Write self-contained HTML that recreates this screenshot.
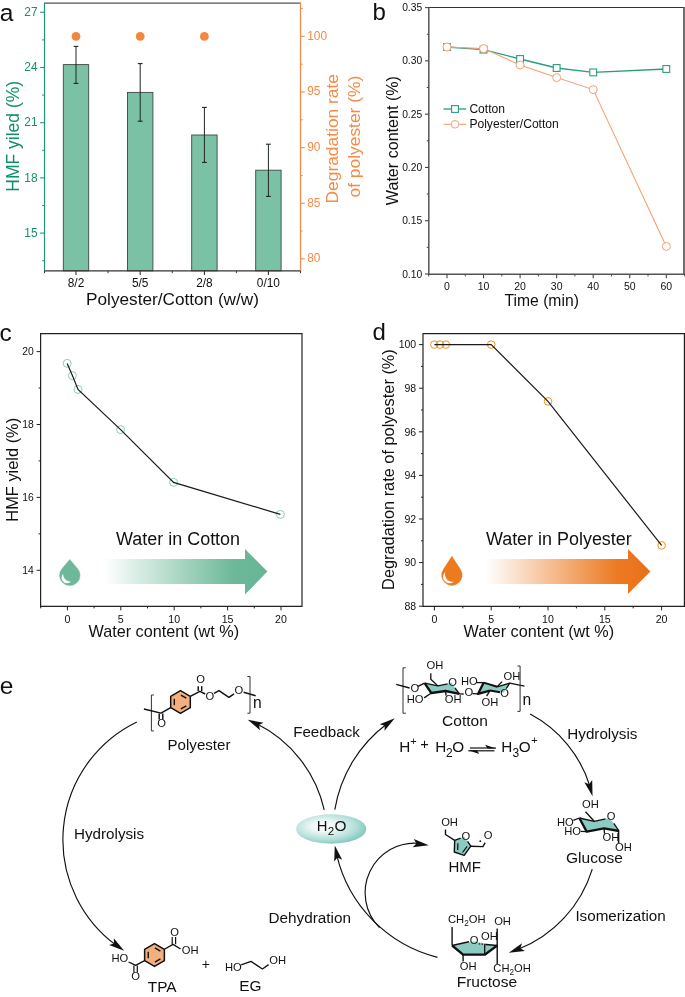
<!DOCTYPE html>
<html><head><meta charset="utf-8"><style>
html,body{margin:0;padding:0;background:#fff;overflow:hidden;}
svg{display:block;will-change:transform;}
text{font-family:"Liberation Sans", sans-serif;}
</style></head><body>
<svg width="685" height="997" viewBox="0 0 685 997">
<rect width="685" height="997" fill="#fff"/>
<text x="-0.20" y="20.70" font-size="24.5" fill="#111" text-anchor="start" >a</text>
<rect x="63.30" y="64.60" width="25.4" height="206.20" fill="#7bc1a5" stroke="#3b4843" stroke-width="0.9"/>
<line x1="76.00" y1="46.40" x2="76.00" y2="83.40" stroke="#1e2522" stroke-width="1.0" />
<line x1="73.60" y1="46.40" x2="78.40" y2="46.40" stroke="#1e2522" stroke-width="1.1" />
<line x1="73.60" y1="83.40" x2="78.40" y2="83.40" stroke="#1e2522" stroke-width="1.1" />
<rect x="127.50" y="92.40" width="25.4" height="178.40" fill="#7bc1a5" stroke="#3b4843" stroke-width="0.9"/>
<line x1="140.20" y1="63.60" x2="140.20" y2="121.20" stroke="#1e2522" stroke-width="1.0" />
<line x1="137.80" y1="63.60" x2="142.60" y2="63.60" stroke="#1e2522" stroke-width="1.1" />
<line x1="137.80" y1="121.20" x2="142.60" y2="121.20" stroke="#1e2522" stroke-width="1.1" />
<rect x="191.70" y="135.00" width="25.4" height="135.80" fill="#7bc1a5" stroke="#3b4843" stroke-width="0.9"/>
<line x1="204.40" y1="107.40" x2="204.40" y2="162.40" stroke="#1e2522" stroke-width="1.0" />
<line x1="202.00" y1="107.40" x2="206.80" y2="107.40" stroke="#1e2522" stroke-width="1.1" />
<line x1="202.00" y1="162.40" x2="206.80" y2="162.40" stroke="#1e2522" stroke-width="1.1" />
<rect x="255.70" y="170.20" width="25.4" height="100.60" fill="#7bc1a5" stroke="#3b4843" stroke-width="0.9"/>
<line x1="268.40" y1="144.20" x2="268.40" y2="196.40" stroke="#1e2522" stroke-width="1.0" />
<line x1="266.00" y1="144.20" x2="270.80" y2="144.20" stroke="#1e2522" stroke-width="1.1" />
<line x1="266.00" y1="196.40" x2="270.80" y2="196.40" stroke="#1e2522" stroke-width="1.1" />
<circle cx="76.00" cy="36.4" r="4.4" fill="#f5863a"/>
<circle cx="140.20" cy="36.4" r="4.4" fill="#f5863a"/>
<circle cx="204.40" cy="36.4" r="4.4" fill="#f5863a"/>
<line x1="44.50" y1="3.20" x2="300.50" y2="3.20" stroke="#555" stroke-width="1.3" />
<line x1="44.30" y1="270.80" x2="300.70" y2="270.80" stroke="#333" stroke-width="1.2" />
<line x1="44.50" y1="2.60" x2="44.50" y2="270.80" stroke="#23977a" stroke-width="1.2" />
<line x1="300.50" y1="2.60" x2="300.50" y2="270.80" stroke="#f4894a" stroke-width="1.2" />
<line x1="40.10" y1="233.10" x2="44.50" y2="233.10" stroke="#23977a" stroke-width="1.1" />
<text x="37.60" y="236.70" font-size="11.9" fill="#15916c" text-anchor="end" >15</text>
<line x1="40.10" y1="177.90" x2="44.50" y2="177.90" stroke="#23977a" stroke-width="1.1" />
<text x="37.60" y="181.50" font-size="11.9" fill="#15916c" text-anchor="end" >18</text>
<line x1="40.10" y1="122.70" x2="44.50" y2="122.70" stroke="#23977a" stroke-width="1.1" />
<text x="37.60" y="126.30" font-size="11.9" fill="#15916c" text-anchor="end" >21</text>
<line x1="40.10" y1="67.50" x2="44.50" y2="67.50" stroke="#23977a" stroke-width="1.1" />
<text x="37.60" y="71.10" font-size="11.9" fill="#15916c" text-anchor="end" >24</text>
<line x1="40.10" y1="12.30" x2="44.50" y2="12.30" stroke="#23977a" stroke-width="1.1" />
<text x="37.60" y="15.90" font-size="11.9" fill="#15916c" text-anchor="end" >27</text>
<line x1="42.10" y1="260.70" x2="44.50" y2="260.70" stroke="#23977a" stroke-width="1.0" />
<line x1="42.10" y1="205.50" x2="44.50" y2="205.50" stroke="#23977a" stroke-width="1.0" />
<line x1="42.10" y1="150.30" x2="44.50" y2="150.30" stroke="#23977a" stroke-width="1.0" />
<line x1="42.10" y1="95.10" x2="44.50" y2="95.10" stroke="#23977a" stroke-width="1.0" />
<line x1="42.10" y1="39.90" x2="44.50" y2="39.90" stroke="#23977a" stroke-width="1.0" />
<line x1="300.50" y1="258.80" x2="304.70" y2="258.80" stroke="#f4894a" stroke-width="1.1" />
<text x="307.20" y="262.20" font-size="11.9" fill="#f58a45" text-anchor="start" >80</text>
<line x1="300.50" y1="203.20" x2="304.70" y2="203.20" stroke="#f4894a" stroke-width="1.1" />
<text x="307.20" y="206.60" font-size="11.9" fill="#f58a45" text-anchor="start" >85</text>
<line x1="300.50" y1="147.60" x2="304.70" y2="147.60" stroke="#f4894a" stroke-width="1.1" />
<text x="307.20" y="151.00" font-size="11.9" fill="#f58a45" text-anchor="start" >90</text>
<line x1="300.50" y1="92.00" x2="304.70" y2="92.00" stroke="#f4894a" stroke-width="1.1" />
<text x="307.20" y="95.40" font-size="11.9" fill="#f58a45" text-anchor="start" >95</text>
<line x1="300.50" y1="36.40" x2="304.70" y2="36.40" stroke="#f4894a" stroke-width="1.1" />
<text x="307.20" y="39.80" font-size="11.9" fill="#f58a45" text-anchor="start" >100</text>
<line x1="300.50" y1="231.00" x2="302.80" y2="231.00" stroke="#f4894a" stroke-width="1.0" />
<line x1="300.50" y1="175.40" x2="302.80" y2="175.40" stroke="#f4894a" stroke-width="1.0" />
<line x1="300.50" y1="119.80" x2="302.80" y2="119.80" stroke="#f4894a" stroke-width="1.0" />
<line x1="300.50" y1="64.20" x2="302.80" y2="64.20" stroke="#f4894a" stroke-width="1.0" />
<line x1="300.50" y1="8.60" x2="302.80" y2="8.60" stroke="#f4894a" stroke-width="1.0" />
<line x1="76.00" y1="270.80" x2="76.00" y2="275.00" stroke="#333" stroke-width="1.1" />
<text x="76.00" y="287.20" font-size="11.9" fill="#111" text-anchor="middle" >8/2</text>
<line x1="140.20" y1="270.80" x2="140.20" y2="275.00" stroke="#333" stroke-width="1.1" />
<text x="140.20" y="287.20" font-size="11.9" fill="#111" text-anchor="middle" >5/5</text>
<line x1="204.40" y1="270.80" x2="204.40" y2="275.00" stroke="#333" stroke-width="1.1" />
<text x="204.40" y="287.20" font-size="11.9" fill="#111" text-anchor="middle" >2/8</text>
<line x1="268.40" y1="270.80" x2="268.40" y2="275.00" stroke="#333" stroke-width="1.1" />
<text x="268.40" y="287.20" font-size="11.9" fill="#111" text-anchor="middle" >0/10</text>
<line x1="44.50" y1="270.80" x2="44.50" y2="273.10" stroke="#333" stroke-width="1.0" />
<line x1="108.10" y1="270.80" x2="108.10" y2="273.10" stroke="#333" stroke-width="1.0" />
<line x1="172.30" y1="270.80" x2="172.30" y2="273.10" stroke="#333" stroke-width="1.0" />
<line x1="236.40" y1="270.80" x2="236.40" y2="273.10" stroke="#333" stroke-width="1.0" />
<line x1="300.50" y1="270.80" x2="300.50" y2="273.10" stroke="#333" stroke-width="1.0" />
<text x="172.50" y="305.20" font-size="17.2" fill="#111" text-anchor="middle" >Polyester/Cotton (w/w)</text>
<text transform="translate(18.50,136.30) rotate(-90)" font-size="17.5" fill="#10906a" text-anchor="middle">HMF yiled (%)</text>
<text transform="translate(338.10,138.75) rotate(-90)" font-size="17.4" fill="#f58a45" text-anchor="middle">Degradation rate</text>
<text transform="translate(360.30,136.60) rotate(-90)" font-size="17.4" fill="#f58a45" text-anchor="middle">of polyester (%)</text>
<text x="372.60" y="20.40" font-size="24" fill="#111" text-anchor="start" >b</text>
<line x1="428.80" y1="7.50" x2="684.00" y2="7.50" stroke="#333" stroke-width="1.2" />
<line x1="428.80" y1="274.20" x2="684.00" y2="274.20" stroke="#555" stroke-width="1.5" />
<line x1="428.80" y1="6.90" x2="428.80" y2="274.90" stroke="#555" stroke-width="1.5" />
<line x1="684.00" y1="6.90" x2="684.00" y2="274.90" stroke="#555" stroke-width="1.7" />
<line x1="425.00" y1="274.00" x2="428.80" y2="274.00" stroke="#444" stroke-width="1.1" />
<text x="422.20" y="277.55" font-size="10.3" fill="#111" text-anchor="end" >0.10</text>
<line x1="425.00" y1="220.72" x2="428.80" y2="220.72" stroke="#444" stroke-width="1.1" />
<text x="422.20" y="224.27" font-size="10.3" fill="#111" text-anchor="end" >0.15</text>
<line x1="425.00" y1="167.44" x2="428.80" y2="167.44" stroke="#444" stroke-width="1.1" />
<text x="422.20" y="170.99" font-size="10.3" fill="#111" text-anchor="end" >0.20</text>
<line x1="425.00" y1="114.16" x2="428.80" y2="114.16" stroke="#444" stroke-width="1.1" />
<text x="422.20" y="117.71" font-size="10.3" fill="#111" text-anchor="end" >0.25</text>
<line x1="425.00" y1="60.88" x2="428.80" y2="60.88" stroke="#444" stroke-width="1.1" />
<text x="422.20" y="64.43" font-size="10.3" fill="#111" text-anchor="end" >0.30</text>
<line x1="425.00" y1="7.60" x2="428.80" y2="7.60" stroke="#444" stroke-width="1.1" />
<text x="422.20" y="11.15" font-size="10.3" fill="#111" text-anchor="end" >0.35</text>
<line x1="426.80" y1="247.36" x2="428.80" y2="247.36" stroke="#444" stroke-width="1.0" />
<line x1="426.80" y1="194.08" x2="428.80" y2="194.08" stroke="#444" stroke-width="1.0" />
<line x1="426.80" y1="140.80" x2="428.80" y2="140.80" stroke="#444" stroke-width="1.0" />
<line x1="426.80" y1="87.52" x2="428.80" y2="87.52" stroke="#444" stroke-width="1.0" />
<line x1="426.80" y1="34.24" x2="428.80" y2="34.24" stroke="#444" stroke-width="1.0" />
<line x1="447.00" y1="274.20" x2="447.00" y2="278.20" stroke="#444" stroke-width="1.1" />
<text x="447.00" y="289.90" font-size="10.5" fill="#111" text-anchor="middle" >0</text>
<line x1="483.55" y1="274.20" x2="483.55" y2="278.20" stroke="#444" stroke-width="1.1" />
<text x="483.55" y="289.90" font-size="10.5" fill="#111" text-anchor="middle" >10</text>
<line x1="520.10" y1="274.20" x2="520.10" y2="278.20" stroke="#444" stroke-width="1.1" />
<text x="520.10" y="289.90" font-size="10.5" fill="#111" text-anchor="middle" >20</text>
<line x1="556.65" y1="274.20" x2="556.65" y2="278.20" stroke="#444" stroke-width="1.1" />
<text x="556.65" y="289.90" font-size="10.5" fill="#111" text-anchor="middle" >30</text>
<line x1="593.20" y1="274.20" x2="593.20" y2="278.20" stroke="#444" stroke-width="1.1" />
<text x="593.20" y="289.90" font-size="10.5" fill="#111" text-anchor="middle" >40</text>
<line x1="629.75" y1="274.20" x2="629.75" y2="278.20" stroke="#444" stroke-width="1.1" />
<text x="629.75" y="289.90" font-size="10.5" fill="#111" text-anchor="middle" >50</text>
<line x1="666.30" y1="274.20" x2="666.30" y2="278.20" stroke="#444" stroke-width="1.1" />
<text x="666.30" y="289.90" font-size="10.5" fill="#111" text-anchor="middle" >60</text>
<line x1="428.73" y1="274.20" x2="428.73" y2="276.40" stroke="#444" stroke-width="1.0" />
<line x1="465.27" y1="274.20" x2="465.27" y2="276.40" stroke="#444" stroke-width="1.0" />
<line x1="501.82" y1="274.20" x2="501.82" y2="276.40" stroke="#444" stroke-width="1.0" />
<line x1="538.38" y1="274.20" x2="538.38" y2="276.40" stroke="#444" stroke-width="1.0" />
<line x1="574.92" y1="274.20" x2="574.92" y2="276.40" stroke="#444" stroke-width="1.0" />
<line x1="611.48" y1="274.20" x2="611.48" y2="276.40" stroke="#444" stroke-width="1.0" />
<line x1="648.02" y1="274.20" x2="648.02" y2="276.40" stroke="#444" stroke-width="1.0" />
<line x1="684.58" y1="274.20" x2="684.58" y2="276.40" stroke="#444" stroke-width="1.0" />
<text x="541.70" y="305.60" font-size="15.7" fill="#111" text-anchor="middle" >Time (min)</text>
<text transform="translate(398.20,140.60) rotate(-90)" font-size="16.1" fill="#111" text-anchor="middle">Water content (%)</text>
<polyline points="447.00,47.00 483.55,49.60 520.10,59.00 556.65,68.00 593.20,72.40 666.30,69.00" fill="none" stroke="#2a9d7c" stroke-width="1.3"/>
<polyline points="447.00,47.00 483.55,48.60 520.10,65.00 556.65,77.60 593.20,89.60 666.30,246.40" fill="none" stroke="#f4a172" stroke-width="1.1"/>
<rect x="443.60" y="43.60" width="6.8" height="6.8" fill="#fff" stroke="#2a9d7c" stroke-width="1.1"/>
<rect x="480.15" y="46.20" width="6.8" height="6.8" fill="#fff" stroke="#2a9d7c" stroke-width="1.1"/>
<rect x="516.70" y="55.60" width="6.8" height="6.8" fill="#fff" stroke="#2a9d7c" stroke-width="1.1"/>
<rect x="553.25" y="64.60" width="6.8" height="6.8" fill="#fff" stroke="#2a9d7c" stroke-width="1.1"/>
<rect x="589.80" y="69.00" width="6.8" height="6.8" fill="#fff" stroke="#2a9d7c" stroke-width="1.1"/>
<rect x="662.90" y="65.60" width="6.8" height="6.8" fill="#fff" stroke="#2a9d7c" stroke-width="1.1"/>
<circle cx="447.00" cy="47.00" r="4.0" fill="#fff" stroke="#f4a172" stroke-width="1.0"/>
<circle cx="483.55" cy="48.60" r="4.0" fill="#fff" stroke="#f4a172" stroke-width="1.0"/>
<circle cx="520.10" cy="65.00" r="4.0" fill="#fff" stroke="#f4a172" stroke-width="1.0"/>
<circle cx="556.65" cy="77.60" r="4.0" fill="#fff" stroke="#f4a172" stroke-width="1.0"/>
<circle cx="593.20" cy="89.60" r="4.0" fill="#fff" stroke="#f4a172" stroke-width="1.0"/>
<circle cx="666.30" cy="246.40" r="4.0" fill="#fff" stroke="#f4a172" stroke-width="1.0"/>
<line x1="443.50" y1="109.00" x2="466.20" y2="109.00" stroke="#2a9d7c" stroke-width="1.3" />
<rect x="451.60" y="105.60" width="6.8" height="6.8" fill="#fff" stroke="#2a9d7c" stroke-width="1.1"/>
<text x="469.40" y="112.60" font-size="12.1" fill="#111" text-anchor="start" >Cotton</text>
<line x1="443.50" y1="124.30" x2="466.20" y2="124.30" stroke="#f4a172" stroke-width="1.1" />
<circle cx="455.0" cy="124.3" r="3.8" fill="#fff" stroke="#f4a172" stroke-width="1.0"/>
<text x="469.40" y="128.00" font-size="12.1" fill="#111" text-anchor="start" >Polyester/Cotton</text>
<text x="-0.50" y="341.00" font-size="24.5" fill="#111" text-anchor="start" >c</text>
<line x1="40.60" y1="333.60" x2="302.00" y2="333.60" stroke="#222" stroke-width="1.2" />
<line x1="40.60" y1="606.40" x2="302.00" y2="606.40" stroke="#222" stroke-width="1.2" />
<line x1="40.60" y1="333.00" x2="40.60" y2="607.00" stroke="#222" stroke-width="1.2" />
<line x1="302.00" y1="333.00" x2="302.00" y2="607.00" stroke="#222" stroke-width="1.2" />
<line x1="36.60" y1="570.30" x2="40.60" y2="570.30" stroke="#222" stroke-width="1.0" />
<text x="33.80" y="574.00" font-size="10.3" fill="#111" text-anchor="end" >14</text>
<line x1="36.60" y1="497.40" x2="40.60" y2="497.40" stroke="#222" stroke-width="1.0" />
<text x="33.80" y="501.10" font-size="10.3" fill="#111" text-anchor="end" >16</text>
<line x1="36.60" y1="424.50" x2="40.60" y2="424.50" stroke="#222" stroke-width="1.0" />
<text x="33.80" y="428.20" font-size="10.3" fill="#111" text-anchor="end" >18</text>
<line x1="36.60" y1="351.60" x2="40.60" y2="351.60" stroke="#222" stroke-width="1.0" />
<text x="33.80" y="355.30" font-size="10.3" fill="#111" text-anchor="end" >20</text>
<line x1="38.60" y1="533.85" x2="40.60" y2="533.85" stroke="#222" stroke-width="1.0" />
<line x1="38.60" y1="460.95" x2="40.60" y2="460.95" stroke="#222" stroke-width="1.0" />
<line x1="38.60" y1="388.05" x2="40.60" y2="388.05" stroke="#222" stroke-width="1.0" />
<line x1="67.40" y1="606.40" x2="67.40" y2="610.40" stroke="#222" stroke-width="1.0" />
<text x="67.40" y="623.20" font-size="10.6" fill="#111" text-anchor="middle" >0</text>
<line x1="120.80" y1="606.40" x2="120.80" y2="610.40" stroke="#222" stroke-width="1.0" />
<text x="120.80" y="623.20" font-size="10.6" fill="#111" text-anchor="middle" >5</text>
<line x1="174.20" y1="606.40" x2="174.20" y2="610.40" stroke="#222" stroke-width="1.0" />
<text x="174.20" y="623.20" font-size="10.6" fill="#111" text-anchor="middle" >10</text>
<line x1="227.60" y1="606.40" x2="227.60" y2="610.40" stroke="#222" stroke-width="1.0" />
<text x="227.60" y="623.20" font-size="10.6" fill="#111" text-anchor="middle" >15</text>
<line x1="281.00" y1="606.40" x2="281.00" y2="610.40" stroke="#222" stroke-width="1.0" />
<text x="281.00" y="623.20" font-size="10.6" fill="#111" text-anchor="middle" >20</text>
<line x1="40.70" y1="606.40" x2="40.70" y2="608.40" stroke="#222" stroke-width="1.0" />
<line x1="94.10" y1="606.40" x2="94.10" y2="608.40" stroke="#222" stroke-width="1.0" />
<line x1="147.50" y1="606.40" x2="147.50" y2="608.40" stroke="#222" stroke-width="1.0" />
<line x1="200.90" y1="606.40" x2="200.90" y2="608.40" stroke="#222" stroke-width="1.0" />
<line x1="254.30" y1="606.40" x2="254.30" y2="608.40" stroke="#222" stroke-width="1.0" />
<text x="163.80" y="636.70" font-size="16.2" fill="#111" text-anchor="middle" >Water content (wt %)</text>
<text transform="translate(17.70,469.75) rotate(-90)" font-size="16.4" fill="#111" text-anchor="middle">HMF yield (%)</text>
<circle cx="67.2" cy="363.4" r="4.0" fill="none" stroke="#86ceb6" stroke-width="1.0"/>
<circle cx="72.4" cy="375.6" r="4.0" fill="none" stroke="#86ceb6" stroke-width="1.0"/>
<circle cx="78" cy="389.4" r="4.0" fill="none" stroke="#86ceb6" stroke-width="1.0"/>
<circle cx="120.6" cy="429.6" r="4.0" fill="none" stroke="#86ceb6" stroke-width="1.0"/>
<circle cx="173.6" cy="482.4" r="4.0" fill="none" stroke="#86ceb6" stroke-width="1.0"/>
<circle cx="280.4" cy="514.4" r="4.0" fill="none" stroke="#86ceb6" stroke-width="1.0"/>
<polyline points="67.2,363.4 72.4,375.6 78,389.4 120.6,429.6 173.6,482.4 280.4,514.4" fill="none" stroke="#1a1a1a" stroke-width="1.2"/>
<text x="116.10" y="544.60" font-size="17.95" fill="#111" text-anchor="start" >Water in Cotton</text>
<text x="372.40" y="340.20" font-size="24" fill="#111" text-anchor="start" >d</text>
<line x1="423.00" y1="333.60" x2="684.40" y2="333.60" stroke="#222" stroke-width="1.2" />
<line x1="423.00" y1="606.40" x2="684.40" y2="606.40" stroke="#222" stroke-width="1.2" />
<line x1="423.00" y1="333.00" x2="423.00" y2="607.00" stroke="#222" stroke-width="1.2" />
<line x1="684.40" y1="333.00" x2="684.40" y2="607.00" stroke="#222" stroke-width="1.2" />
<line x1="419.00" y1="606.20" x2="423.00" y2="606.20" stroke="#222" stroke-width="1.0" />
<text x="416.20" y="609.90" font-size="10.5" fill="#111" text-anchor="end" >88</text>
<line x1="419.00" y1="562.60" x2="423.00" y2="562.60" stroke="#222" stroke-width="1.0" />
<text x="416.20" y="566.30" font-size="10.5" fill="#111" text-anchor="end" >90</text>
<line x1="419.00" y1="519.00" x2="423.00" y2="519.00" stroke="#222" stroke-width="1.0" />
<text x="416.20" y="522.70" font-size="10.5" fill="#111" text-anchor="end" >92</text>
<line x1="419.00" y1="475.40" x2="423.00" y2="475.40" stroke="#222" stroke-width="1.0" />
<text x="416.20" y="479.10" font-size="10.5" fill="#111" text-anchor="end" >94</text>
<line x1="419.00" y1="431.80" x2="423.00" y2="431.80" stroke="#222" stroke-width="1.0" />
<text x="416.20" y="435.50" font-size="10.5" fill="#111" text-anchor="end" >96</text>
<line x1="419.00" y1="388.20" x2="423.00" y2="388.20" stroke="#222" stroke-width="1.0" />
<text x="416.20" y="391.90" font-size="10.5" fill="#111" text-anchor="end" >98</text>
<line x1="419.00" y1="344.60" x2="423.00" y2="344.60" stroke="#222" stroke-width="1.0" />
<text x="416.20" y="348.30" font-size="10.5" fill="#111" text-anchor="end" >100</text>
<line x1="421.00" y1="584.40" x2="423.00" y2="584.40" stroke="#222" stroke-width="1.0" />
<line x1="421.00" y1="540.80" x2="423.00" y2="540.80" stroke="#222" stroke-width="1.0" />
<line x1="421.00" y1="497.20" x2="423.00" y2="497.20" stroke="#222" stroke-width="1.0" />
<line x1="421.00" y1="453.60" x2="423.00" y2="453.60" stroke="#222" stroke-width="1.0" />
<line x1="421.00" y1="410.00" x2="423.00" y2="410.00" stroke="#222" stroke-width="1.0" />
<line x1="421.00" y1="366.40" x2="423.00" y2="366.40" stroke="#222" stroke-width="1.0" />
<line x1="434.40" y1="606.40" x2="434.40" y2="610.40" stroke="#222" stroke-width="1.0" />
<text x="434.40" y="623.10" font-size="10.6" fill="#111" text-anchor="middle" >0</text>
<line x1="491.20" y1="606.40" x2="491.20" y2="610.40" stroke="#222" stroke-width="1.0" />
<text x="491.20" y="623.10" font-size="10.6" fill="#111" text-anchor="middle" >5</text>
<line x1="548.00" y1="606.40" x2="548.00" y2="610.40" stroke="#222" stroke-width="1.0" />
<text x="548.00" y="623.10" font-size="10.6" fill="#111" text-anchor="middle" >10</text>
<line x1="604.80" y1="606.40" x2="604.80" y2="610.40" stroke="#222" stroke-width="1.0" />
<text x="604.80" y="623.10" font-size="10.6" fill="#111" text-anchor="middle" >15</text>
<line x1="661.60" y1="606.40" x2="661.60" y2="610.40" stroke="#222" stroke-width="1.0" />
<text x="661.60" y="623.10" font-size="10.6" fill="#111" text-anchor="middle" >20</text>
<line x1="462.80" y1="606.40" x2="462.80" y2="608.40" stroke="#222" stroke-width="1.0" />
<line x1="519.60" y1="606.40" x2="519.60" y2="608.40" stroke="#222" stroke-width="1.0" />
<line x1="576.40" y1="606.40" x2="576.40" y2="608.40" stroke="#222" stroke-width="1.0" />
<line x1="633.20" y1="606.40" x2="633.20" y2="608.40" stroke="#222" stroke-width="1.0" />
<text x="538.80" y="636.60" font-size="16.2" fill="#111" text-anchor="middle" >Water content (wt %)</text>
<text transform="translate(393.70,469.55) rotate(-90)" font-size="16.35" fill="#111" text-anchor="middle">Degradation rate of polyester (%)</text>
<circle cx="434.4" cy="344.6" r="3.8" fill="none" stroke="#f7901e" stroke-width="1.0"/>
<circle cx="440.0" cy="344.6" r="3.8" fill="none" stroke="#f7901e" stroke-width="1.0"/>
<circle cx="445.8" cy="344.6" r="3.8" fill="none" stroke="#f7901e" stroke-width="1.0"/>
<circle cx="491.2" cy="344.6" r="3.8" fill="none" stroke="#f7901e" stroke-width="1.0"/>
<circle cx="548" cy="401.4" r="3.8" fill="none" stroke="#f7901e" stroke-width="1.0"/>
<circle cx="661.6" cy="545.4" r="3.8" fill="none" stroke="#f7901e" stroke-width="1.0"/>
<polyline points="434.4,344.6 440.0,344.6 445.8,344.6 491.2,344.6 548,401.4 661.6,545.4" fill="none" stroke="#1a1a1a" stroke-width="1.2"/>
<text x="485.90" y="544.60" font-size="17.95" fill="#111" text-anchor="start" >Water in Polyester</text>
<defs>
<linearGradient id="gg" x1="104" y1="0" x2="267" y2="0" gradientUnits="userSpaceOnUse">
<stop offset="0" stop-color="#6cb898" stop-opacity="0"/><stop offset="0.8" stop-color="#6cb898" stop-opacity="1"/><stop offset="1" stop-color="#68b596" stop-opacity="1"/></linearGradient>
<linearGradient id="og" x1="486" y1="0" x2="650" y2="0" gradientUnits="userSpaceOnUse">
<stop offset="0" stop-color="#ec7a22" stop-opacity="0"/><stop offset="0.8" stop-color="#ec7a22" stop-opacity="1"/><stop offset="1" stop-color="#e8711a" stop-opacity="1"/></linearGradient>
<radialGradient id="h2o" cx="0.42" cy="0.42" r="0.6" fx="0.38" fy="0.4">
<stop offset="0" stop-color="#ffffff"/><stop offset="0.3" stop-color="#eef8f6"/><stop offset="0.75" stop-color="#b2ded8"/><stop offset="1" stop-color="#82c9bf"/></radialGradient>
</defs>
<path d="M104,559 L245,559 L245,549 L267.4,571.5 L245,594.4 L245,584 L104,584 Z" fill="url(#gg)"/>
<path d="M486.4,559 L628,559 L628,549 L650.4,571.5 L628,594 L628,584 L486.4,584 Z" fill="url(#og)"/>
<path d="M69.80,559.40 L77.65,568.63 A10.3,10.3 0 1 1 61.95,568.63 Z" fill="#6cb898" stroke="#6cb898" stroke-width="0.4" stroke-linejoin="round"/>
<path d="M63.10,573.70 A7.6,7.6 0 0 0 71.30,581.60 A5.1,5.1 0 0 1 63.10,573.70 Z" fill="#fff"/>
<path d="M451.90,556.20 L460.54,569.49 A10.3,10.3 0 1 1 443.26,569.49 Z" fill="#ec7a1e" stroke="#ec7a1e" stroke-width="0.4" stroke-linejoin="round"/>
<path d="M445.30,572.10 A7.6,7.6 0 0 0 453.60,581.80 A5.1,5.1 0 0 1 445.30,572.10 Z" fill="#fff"/>
<text x="-0.20" y="693.50" font-size="24.5" fill="#111" text-anchor="start" >e</text>
<path d="M153.90,695.00 L151.40,695.00 L151.40,730.90 L153.90,730.90" fill="none" stroke="#333" stroke-width="1.0" stroke-linejoin="round" stroke-linecap="butt" />
<path d="M143.90,709.00 L161.00,713.10 L170.70,707.60" fill="none" stroke="#111" stroke-width="1.45" stroke-linejoin="round" stroke-linecap="butt" />
<path d="M159.20,713.40 L159.20,719.60" fill="none" stroke="#111" stroke-width="1.45" stroke-linejoin="round" stroke-linecap="butt" />
<path d="M162.80,713.40 L162.80,719.60" fill="none" stroke="#111" stroke-width="1.45" stroke-linejoin="round" stroke-linecap="butt" />
<text x="157.27" y="727.40" font-size="11.2" fill="#111">O</text>
<polygon points="180.50,690.70 190.29,696.35 190.29,707.65 180.50,713.30 170.71,707.65 170.71,696.35" fill="#f2b07e" stroke="#111" stroke-width="1.5" stroke-linejoin="round"/>
<path d="M174.31,705.16 L174.31,698.84" fill="none" stroke="#111" stroke-width="1.4" stroke-linejoin="round" stroke-linecap="butt" />
<path d="M180.85,695.06 L186.33,698.22" fill="none" stroke="#111" stroke-width="1.4" stroke-linejoin="round" stroke-linecap="butt" />
<path d="M186.33,705.78 L180.85,708.94" fill="none" stroke="#111" stroke-width="1.4" stroke-linejoin="round" stroke-linecap="butt" />
<path d="M190.29,696.35 L199.90,691.30 L205.20,694.00" fill="none" stroke="#111" stroke-width="1.45" stroke-linejoin="round" stroke-linecap="butt" />
<path d="M198.20,691.00 L198.20,686.20" fill="none" stroke="#111" stroke-width="1.45" stroke-linejoin="round" stroke-linecap="butt" />
<path d="M201.70,691.00 L201.70,686.20" fill="none" stroke="#111" stroke-width="1.45" stroke-linejoin="round" stroke-linecap="butt" />
<text x="196.27" y="682.50" font-size="11.2" fill="#111">O</text>
<text x="205.57" y="699.50" font-size="11.2" fill="#111">O</text>
<path d="M214.00,693.40 L219.00,690.60 L228.90,697.30 L234.00,693.80" fill="none" stroke="#111" stroke-width="1.45" stroke-linejoin="round" stroke-linecap="butt" />
<text x="234.57" y="693.70" font-size="11.2" fill="#111">O</text>
<path d="M243.60,692.30 L255.70,695.70" fill="none" stroke="#111" stroke-width="1.45" stroke-linejoin="round" stroke-linecap="butt" />
<path d="M247.40,676.50 L250.00,676.50 L250.00,713.20 L247.40,713.20" fill="none" stroke="#333" stroke-width="1.0" stroke-linejoin="round" stroke-linecap="butt" />
<text x="252.97" y="707.80" font-size="15.6" fill="#111">n</text>
<text x="167.56" y="750.20" font-size="15.1" fill="#111">Polyester</text>
<path d="M405.80,667.80 L403.00,667.80 L403.00,713.20 L405.80,713.20" fill="none" stroke="#333" stroke-width="1.0" stroke-linejoin="round" stroke-linecap="butt" />
<path d="M396.20,684.40 L409.60,688.00" fill="none" stroke="#111" stroke-width="1.45" stroke-linejoin="round" stroke-linecap="butt" />
<text x="410.57" y="691.60" font-size="11.2" fill="#111">O</text>
<path d="M418.00,686.30 L424.60,683.10" fill="none" stroke="#111" stroke-width="1.45" stroke-linejoin="round" stroke-linecap="butt" />
<polygon points="424.60,683.10 437.90,685.90 445.60,684.60 451.50,682.50 455.30,688.20 459.40,693.80 445.60,691.00 431.30,693.00" fill="#8ccbc2"/>
<path d="M424.60,683.10 L437.90,685.90 L447.60,683.90" fill="none" stroke="#111" stroke-width="1.3" stroke-linejoin="round" stroke-linecap="butt" />
<path d="M455.00,688.00 L459.40,693.80" fill="none" stroke="#111" stroke-width="1.3" stroke-linejoin="round" stroke-linecap="butt" />
<path d="M424.60,683.10 L431.30,693.00 L445.60,691.00 L459.40,693.80" fill="none" stroke="#111" stroke-width="2.3" stroke-linejoin="round" stroke-linecap="butt" />
<path d="M437.90,685.90 L430.80,679.20 L430.80,673.20" fill="none" stroke="#111" stroke-width="1.3" stroke-linejoin="round" stroke-linecap="butt" />
<text x="426.47" y="669.10" font-size="11.2" fill="#111">OH</text>
<text x="448.37" y="685.70" font-size="11.2" fill="#111">O</text>
<path d="M431.30,693.00 L424.10,697.90" fill="none" stroke="#111" stroke-width="1.3" stroke-linejoin="round" stroke-linecap="butt" />
<text x="406.68" y="703.00" font-size="11.2" fill="#111">HO</text>
<path d="M445.60,691.00 L446.10,695.60" fill="none" stroke="#111" stroke-width="1.3" stroke-linejoin="round" stroke-linecap="butt" />
<text x="444.87" y="703.00" font-size="11.2" fill="#111">OH</text>
<path d="M459.40,693.80 L463.80,694.20" fill="none" stroke="#111" stroke-width="1.3" stroke-linejoin="round" stroke-linecap="butt" />
<text x="464.57" y="695.50" font-size="11.2" fill="#111">O</text>
<path d="M472.40,693.60 L478.00,693.90" fill="none" stroke="#111" stroke-width="1.3" stroke-linejoin="round" stroke-linecap="butt" />
<polygon points="478.00,693.90 483.70,682.60 497.20,686.80 509.70,683.20 503.70,692.80 490.00,690.60" fill="#8ccbc2"/>
<path d="M497.20,686.80 L509.70,683.20 L506.20,688.60" fill="none" stroke="#111" stroke-width="1.3" stroke-linejoin="round" stroke-linecap="butt" />
<path d="M483.70,682.60 L497.20,686.80" fill="none" stroke="#111" stroke-width="2.0" stroke-linejoin="round" stroke-linecap="butt" />
<path d="M490.00,690.60 L478.00,693.90 L483.70,682.60" fill="none" stroke="#111" stroke-width="2.3" stroke-linejoin="round" stroke-linecap="butt" />
<path d="M490.00,690.60 L500.00,692.20" fill="none" stroke="#111" stroke-width="2.0" stroke-linejoin="round" stroke-linecap="butt" />
<text x="500.37" y="696.50" font-size="11.2" fill="#111">O</text>
<path d="M476.60,682.60 L483.70,682.60" fill="none" stroke="#111" stroke-width="1.3" stroke-linejoin="round" stroke-linecap="butt" />
<text x="460.88" y="684.60" font-size="11.2" fill="#111">HO</text>
<path d="M497.20,686.80 L502.10,681.60" fill="none" stroke="#111" stroke-width="1.3" stroke-linejoin="round" stroke-linecap="butt" />
<text x="503.47" y="679.60" font-size="11.2" fill="#111">OH</text>
<path d="M490.00,690.60 L486.60,696.20" fill="none" stroke="#111" stroke-width="1.3" stroke-linejoin="round" stroke-linecap="butt" />
<text x="481.57" y="705.90" font-size="11.2" fill="#111">OH</text>
<path d="M509.70,683.20 L524.50,686.20" fill="none" stroke="#111" stroke-width="1.3" stroke-linejoin="round" stroke-linecap="butt" />
<path d="M517.40,666.00 L520.10,666.00 L520.10,711.40 L517.40,711.40" fill="none" stroke="#333" stroke-width="1.0" stroke-linejoin="round" stroke-linecap="butt" />
<text x="522.57" y="704.60" font-size="15.6" fill="#111">n</text>
<text x="442.11" y="726.00" font-size="15.5" fill="#111">Cotton</text>
<text x="399.25" y="752.30" font-size="15.3" fill="#111">H</text>
<text x="410.36" y="745.20" font-size="11.0" fill="#111">+</text>
<text x="420.18" y="749.20" font-size="14.6" fill="#111">+</text>
<text x="435.25" y="752.30" font-size="15.3" fill="#111">H</text>
<text x="445.90" y="756.70" font-size="12.0" fill="#111">2</text>
<text x="452.28" y="752.30" font-size="15.3" fill="#111">O</text>
<path d="M469.90,748.00 L495.90,748.00" fill="none" stroke="#111" stroke-width="1.2" stroke-linejoin="round" stroke-linecap="butt" />
<path d="M495.9,748.6 L485.2,744.8 L487.5,748.6 Z" fill="#111"/>
<path d="M468.40,750.80 L494.50,750.80" fill="none" stroke="#111" stroke-width="1.2" stroke-linejoin="round" stroke-linecap="butt" />
<path d="M468.4,750.2 L479.2,754.0 L476.9,750.2 Z" fill="#111"/>
<text x="501.35" y="752.40" font-size="15.3" fill="#111">H</text>
<text x="512.40" y="756.50" font-size="12.0" fill="#111">3</text>
<text x="518.68" y="752.40" font-size="15.3" fill="#111">O</text>
<text x="531.16" y="744.00" font-size="11.0" fill="#111">+</text>
<polygon points="579.30,818.00 594.20,821.30 604.10,819.20 609.50,818.00 614.00,823.80 619.00,831.00 604.10,828.30 586.70,831.60" fill="#8ccbc2"/>
<path d="M579.30,818.00 L594.20,821.30 L605.50,818.80" fill="none" stroke="#111" stroke-width="1.3" stroke-linejoin="round" stroke-linecap="butt" />
<path d="M613.80,823.40 L619.00,831.00" fill="none" stroke="#111" stroke-width="1.3" stroke-linejoin="round" stroke-linecap="butt" />
<path d="M579.30,818.00 L586.70,831.60 L604.10,828.30 L619.00,831.00" fill="none" stroke="#111" stroke-width="2.3" stroke-linejoin="round" stroke-linecap="butt" />
<path d="M594.20,821.30 L585.50,811.80" fill="none" stroke="#111" stroke-width="1.3" stroke-linejoin="round" stroke-linecap="butt" />
<text x="582.07" y="807.70" font-size="11.2" fill="#111">OH</text>
<text x="606.87" y="820.40" font-size="11.2" fill="#111">O</text>
<path d="M573.40,820.40 L579.30,818.00" fill="none" stroke="#111" stroke-width="1.3" stroke-linejoin="round" stroke-linecap="butt" />
<text x="556.88" y="825.80" font-size="11.2" fill="#111">HO</text>
<path d="M580.60,831.40 L586.70,831.60" fill="none" stroke="#111" stroke-width="1.3" stroke-linejoin="round" stroke-linecap="butt" />
<text x="564.28" y="834.50" font-size="11.2" fill="#111">HO</text>
<path d="M604.10,828.30 L604.50,833.60" fill="none" stroke="#111" stroke-width="1.3" stroke-linejoin="round" stroke-linecap="butt" />
<text x="602.57" y="841.20" font-size="11.2" fill="#111">OH</text>
<path d="M618.60,831.00 L618.60,843.00" fill="none" stroke="#111" stroke-width="1.5" stroke-linejoin="round" stroke-linecap="butt" />
<text x="614.97" y="851.10" font-size="11.2" fill="#111">OH</text>
<text x="566.02" y="862.90" font-size="15.5" fill="#111">Glucose</text>
<polygon points="452.10,945.50 473.60,941.50 497.20,945.50 484.70,954.70 463.10,954.70" fill="#8ccbc2"/>
<path d="M452.10,945.50 L469.00,941.80" fill="none" stroke="#111" stroke-width="1.4" stroke-linejoin="round" stroke-linecap="butt" />
<path d="M478.80,943.90 L485.50,944.50" fill="none" stroke="#111" stroke-width="1.2" stroke-linejoin="round" stroke-linecap="butt" stroke-dasharray="1.4,1.4"/>
<path d="M485.50,944.50 L497.20,945.50" fill="none" stroke="#111" stroke-width="1.4" stroke-linejoin="round" stroke-linecap="butt" />
<path d="M497.20,945.50 L484.70,954.70 L463.10,954.70 L452.10,945.50" fill="none" stroke="#111" stroke-width="2.3" stroke-linejoin="round" stroke-linecap="butt" />
<path d="M452.10,927.10 L452.10,945.50" fill="none" stroke="#111" stroke-width="1.4" stroke-linejoin="round" stroke-linecap="butt" />
<text x="448.03" y="923.1" font-size="11.2" fill="#111">CH<tspan font-size="8.2" dy="3.0">2</tspan><tspan dy="-3.0">OH</tspan></text>
<text x="469.87" y="944.40" font-size="11.2" fill="#111">O</text>
<path d="M484.70,954.70 L484.70,944.20" fill="none" stroke="#111" stroke-width="1.3" stroke-linejoin="round" stroke-linecap="butt" />
<text x="481.07" y="940.40" font-size="11.2" fill="#111">OH</text>
<path d="M497.20,928.40 L497.20,963.90" fill="none" stroke="#111" stroke-width="1.4" stroke-linejoin="round" stroke-linecap="butt" />
<text x="494.17" y="924.70" font-size="11.2" fill="#111">OH</text>
<text x="493.33" y="971.8" font-size="11.2" fill="#111">CH<tspan font-size="8.2" dy="3.0">2</tspan><tspan dy="-3.0">OH</tspan></text>
<path d="M463.10,954.70 L463.10,961.60" fill="none" stroke="#111" stroke-width="1.4" stroke-linejoin="round" stroke-linecap="butt" />
<text x="459.77" y="969.80" font-size="11.2" fill="#111">OH</text>
<text x="456.73" y="986.80" font-size="15.5" fill="#111">Fructose</text>
<polygon points="454.70,840.40 464.20,836.70 470.80,846.20 464.20,855.40 454.30,852.00" fill="#8ccbc2"/>
<path d="M460.60,838.10 L454.70,840.40 L454.30,852.00 L464.20,855.40 L470.80,846.20 L467.60,841.40" fill="none" stroke="#111" stroke-width="1.4" stroke-linejoin="round" stroke-linecap="butt" />
<path d="M457.90,843.30 L457.70,850.00" fill="none" stroke="#111" stroke-width="1.2" stroke-linejoin="round" stroke-linecap="butt" />
<path d="M462.50,852.50 L467.20,846.30" fill="none" stroke="#111" stroke-width="1.2" stroke-linejoin="round" stroke-linecap="butt" />
<path d="M454.70,840.40 L445.50,834.50 L445.50,829.60" fill="none" stroke="#111" stroke-width="1.4" stroke-linejoin="round" stroke-linecap="butt" />
<text x="441.17" y="825.80" font-size="11.2" fill="#111">OH</text>
<text x="461.57" y="839.60" font-size="11.2" fill="#111">O</text>
<path d="M470.80,846.20 L482.90,846.60 L485.20,842.60" fill="none" stroke="#111" stroke-width="1.4" stroke-linejoin="round" stroke-linecap="butt" />
<circle cx="480.3" cy="841.2" r="0.9" fill="#111"/>
<text x="483.77" y="838.90" font-size="11.2" fill="#111">O</text>
<text x="448.47" y="871.50" font-size="15.0" fill="#111">HMF</text>
<polygon points="154.50,943.60 164.37,949.30 164.37,960.70 154.50,966.40 144.63,960.70 144.63,949.30" fill="#f2b07e" stroke="#111" stroke-width="1.5" stroke-linejoin="round"/>
<path d="M148.23,958.19 L148.23,951.81" fill="none" stroke="#111" stroke-width="1.4" stroke-linejoin="round" stroke-linecap="butt" />
<path d="M154.87,947.97 L160.40,951.16" fill="none" stroke="#111" stroke-width="1.4" stroke-linejoin="round" stroke-linecap="butt" />
<path d="M160.40,958.84 L154.87,962.03" fill="none" stroke="#111" stroke-width="1.4" stroke-linejoin="round" stroke-linecap="butt" />
<path d="M164.37,949.30 L173.00,944.40 L180.60,949.00" fill="none" stroke="#111" stroke-width="1.3" stroke-linejoin="round" stroke-linecap="butt" />
<path d="M172.20,944.30 L172.20,937.00" fill="none" stroke="#111" stroke-width="1.2" stroke-linejoin="round" stroke-linecap="butt" />
<path d="M175.60,944.30 L175.60,937.00" fill="none" stroke="#111" stroke-width="1.2" stroke-linejoin="round" stroke-linecap="butt" />
<text x="170.27" y="935.60" font-size="11.2" fill="#111">O</text>
<text x="181.87" y="953.60" font-size="11.2" fill="#111">OH</text>
<path d="M144.63,960.70 L135.60,965.40 L128.60,962.00" fill="none" stroke="#111" stroke-width="1.3" stroke-linejoin="round" stroke-linecap="butt" />
<path d="M133.90,965.60 L133.90,972.40" fill="none" stroke="#111" stroke-width="1.2" stroke-linejoin="round" stroke-linecap="butt" />
<path d="M137.30,965.60 L137.30,972.40" fill="none" stroke="#111" stroke-width="1.2" stroke-linejoin="round" stroke-linecap="butt" />
<text x="131.27" y="980.00" font-size="11.2" fill="#111">O</text>
<text x="111.48" y="962.40" font-size="11.2" fill="#111">HO</text>
<text x="201.8" y="968.6" font-size="14" fill="#111">+</text>
<text x="147.76" y="991.70" font-size="15.4" fill="#111">TPA</text>
<text x="224.88" y="971.00" font-size="11.2" fill="#111">HO</text>
<path d="M241.20,964.80 L251.00,961.40 L262.40,969.00 L268.60,964.60" fill="none" stroke="#111" stroke-width="1.3" stroke-linejoin="round" stroke-linecap="butt" />
<text x="269.27" y="964.40" font-size="11.2" fill="#111">OH</text>
<text x="239.34" y="991.30" font-size="15.4" fill="#111">EG</text>
<text x="293.15" y="737.40" font-size="15.2" fill="#111">Feedback</text>
<text x="74.05" y="839.00" font-size="15.2" fill="#111">Hydrolysis</text>
<text x="567.35" y="738.60" font-size="15.2" fill="#111">Hydrolysis</text>
<text x="575.40" y="921.00" font-size="15.2" fill="#111">Isomerization</text>
<text x="268.45" y="923.20" font-size="15.3" fill="#111">Dehydration</text>
<ellipse cx="331.2" cy="829.0" rx="35.1" ry="14.7" fill="url(#h2o)"/>
<text x="316.79" y="830.90" font-size="14.8" fill="#111">H</text>
<text x="327.82" y="834.90" font-size="11.6" fill="#111">2</text>
<text x="334.38" y="830.80" font-size="15.4" fill="#111">O</text>
<path d="M136.80,721.90 A131.00,131.00 0 0 0 116.39,945.41" fill="none" stroke="#111" stroke-width="1.15"/>
<path d="M124.13,950.67 L109.06,944.93 L114.05,943.46 L113.83,938.26 Z" fill="#111"/>
<path d="M324.21,809.93 A127.40,127.40 0 0 0 256.25,723.54" fill="none" stroke="#111" stroke-width="1.15"/>
<path d="M247.71,719.71 L263.55,722.74 L258.90,725.06 L260.02,730.14 Z" fill="#111"/>
<path d="M334.83,809.54 A134.90,134.90 0 0 1 387.06,723.70" fill="none" stroke="#111" stroke-width="1.15"/>
<path d="M394.75,718.36 L384.57,730.87 L384.73,725.67 L379.73,724.25 Z" fill="#111"/>
<path d="M530.12,714.08 A122.50,122.50 0 0 1 590.20,787.08" fill="none" stroke="#111" stroke-width="1.15"/>
<path d="M592.55,796.13 L584.30,782.27 L589.13,784.22 L592.18,780.01 Z" fill="#111"/>
<path d="M592.28,869.09 A126.00,126.00 0 0 1 517.63,949.57" fill="none" stroke="#111" stroke-width="1.15"/>
<path d="M508.80,952.65 L521.95,943.31 L520.40,948.28 L524.84,950.99 Z" fill="#111"/>
<path d="M437.48,957.38 A138.40,138.40 0 0 1 336.63,854.68" fill="none" stroke="#111" stroke-width="1.15"/>
<path d="M334.81,845.50 L342.19,859.84 L337.49,857.60 L334.18,861.62 Z" fill="#111"/>
<path d="M379.53,927.67 A49.60,49.60 0 0 1 419.57,843.34" fill="none" stroke="#111" stroke-width="1.15"/>
<path d="M428.75,845.13 L412.75,847.18 L416.45,843.52 L413.81,839.04 Z" fill="#111"/>
</svg></body></html>
